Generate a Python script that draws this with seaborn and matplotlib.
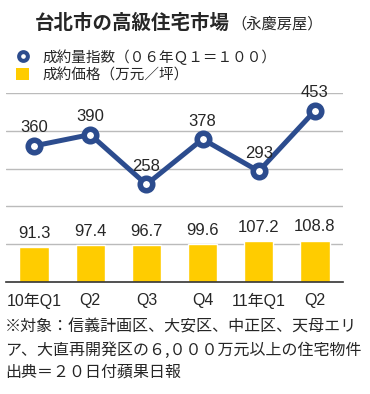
import matplotlib
matplotlib.use('Agg')
import matplotlib.pyplot as plt
import seaborn as sns
from matplotlib.lines import Line2D
from matplotlib.patches import Patch

# ---- data ----
periods = ['2010Q1', '2010Q2', '2010Q3', '2010Q4', '2011Q1', '2011Q2']
tick_labels = ['10年Q1', 'Q2', 'Q3', 'Q4', '11年Q1', 'Q2']
volume_index = [360, 390, 258, 378, 293, 453]
price = [91.3, 97.4, 96.7, 99.6, 107.2, 108.8]

title = '台北市の高級住宅市場'
subtitle = '（永慶房屋）'
legend_labels = ['成約量指数（０６年Ｑ１＝１００）', '成約価格（万元／坪）']
notes = ['※対象：信義計画区、大安区、中正区、天母エリ',
         'ア、大直再開発区の６,０００万元以上の住宅物件',
         '出典＝２０日付蘋果日報']

blue = '#2C4C8E'
yellow = '#FFCC00'

sns.set_style('white')
plt.rcParams['font.family'] = ['Noto Sans CJK JP', 'DejaVu Sans']

W, H = 370, 394
fig = plt.figure(figsize=(W / 100, H / 100), dpi=100)
ax = fig.add_axes([6 / W, 112 / H, 337 / W, 189 / H])

sns.barplot(x=periods, y=price, order=periods, color=yellow, saturation=1,
            width=0.52, ax=ax, zorder=2)
sns.pointplot(x=periods, y=volume_index, order=periods, color=blue,
              markers='o', errorbar=None, ax=ax,
              markersize=9, markeredgewidth=4, linewidth=3.6)
for ln in ax.lines:
    ln.set_markerfacecolor('white')
    ln.set_markeredgecolor(blue)
    ln.set_zorder(4)
    ln.set_clip_on(False)

ax.set_xlim(-0.5, len(periods) - 0.5)
ax.set_ylim(0, 500)
ax.set_yticks([100, 200, 300, 400, 500])
ax.set_yticklabels([])
ax.yaxis.grid(True, color='#BBBBBB', linewidth=1)
ax.set_axisbelow(True)
ax.tick_params(axis='y', length=0)
ax.tick_params(axis='x', length=0, pad=8)
ax.set_xticks(range(len(periods)))
ax.set_xticklabels(tick_labels, fontsize=11.5,
                   family=['Liberation Sans', 'Noto Sans CJK JP'])
ax.set_xlabel('')
ax.set_ylabel('')
for s in ['top', 'left', 'right']:
    ax.spines[s].set_visible(False)
ax.spines['bottom'].set_color('#333333')
ax.spines['bottom'].set_linewidth(1.2)

for i, v in enumerate(volume_index):
    ax.annotate(f'{v}', (i, v), xytext=(0, 13), textcoords='offset points',
                ha='center', va='center', fontsize=12,
                family=['Liberation Sans'], zorder=5, annotation_clip=False)
for i, v in enumerate(price):
    ax.annotate(f'{v:.1f}', (i, v), xytext=(0, 10), textcoords='offset points',
                ha='center', va='center', fontsize=12,
                family=['Liberation Sans'], zorder=5)

fig.text(35 / W, 1 - 23 / H, title, fontsize=14, fontweight='bold',
         va='center', ha='left')
fig.text(231 / W, 1 - 24 / H, subtitle, fontsize=11, va='center', ha='left')

handles = [Line2D([], [], marker='o', linestyle='none', markersize=6.3,
                  markeredgewidth=2.9, markerfacecolor='white',
                  markeredgecolor=blue),
           Patch(facecolor=yellow, edgecolor='none')]
fig.legend(handles, legend_labels, loc='upper left',
           bbox_to_anchor=(16 / W, 1 - 49 / H), frameon=False,
           fontsize=10.5, handlelength=0.9, handleheight=0.9,
           handletextpad=0.9, labelspacing=0.25, borderaxespad=0,
           borderpad=0)

for k, (line, y) in enumerate(zip(notes, [327, 350, 372])):
    fig.text(5 / W, 1 - y / H, line, fontsize=11.5, va='center', ha='left')

fig.savefig('out.png', dpi=100)
